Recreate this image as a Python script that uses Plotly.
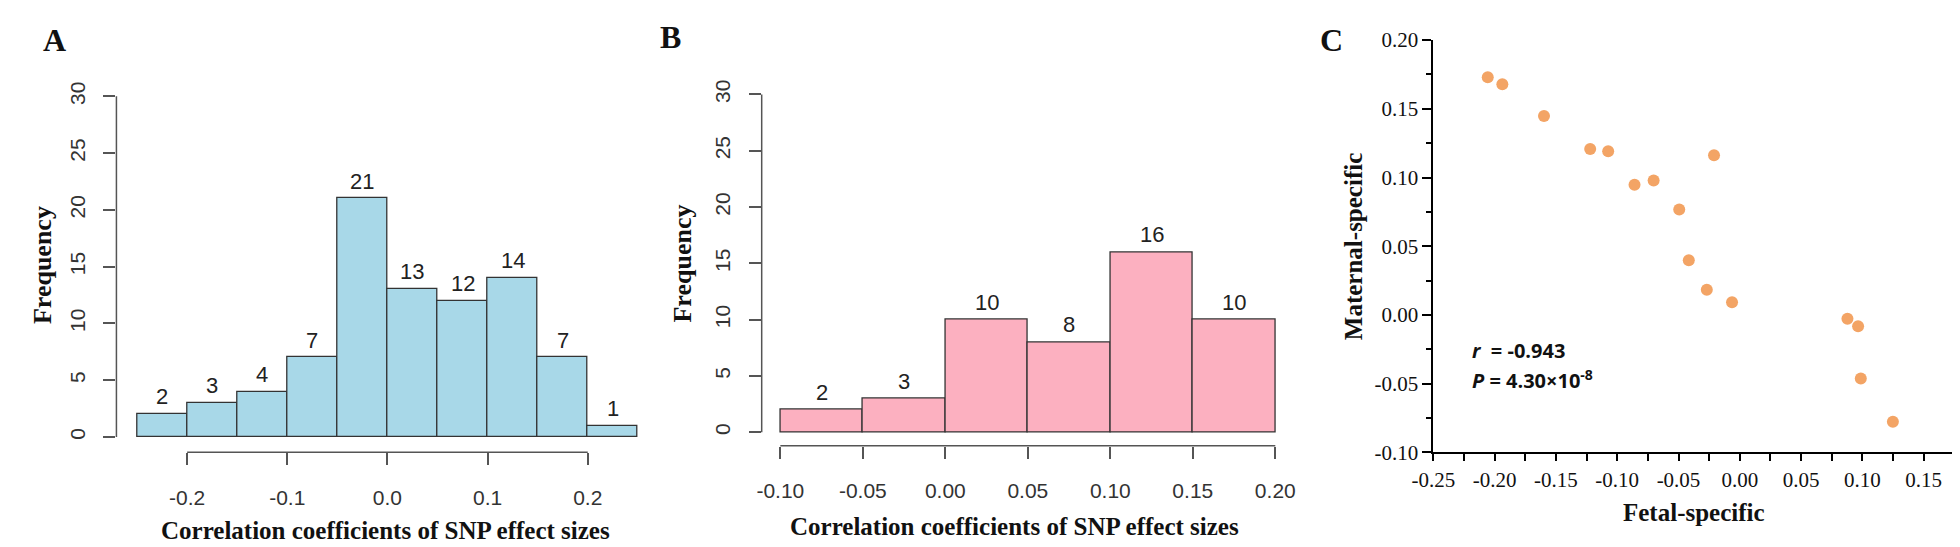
import plotly.graph_objects as go

# ---------------- data ----------------
edges_a = [-0.25, -0.20, -0.15, -0.10, -0.05, 0.00, 0.05, 0.10, 0.15, 0.20, 0.25]
counts_a = [2, 3, 4, 7, 21, 13, 12, 14, 7, 1]
xticks_a = [-0.2, -0.1, 0.0, 0.1, 0.2]

edges_b = [-0.10, -0.05, 0.00, 0.05, 0.10, 0.15, 0.20]
counts_b = [2, 3, 10, 8, 16, 10]
xticks_b = [-0.10, -0.05, 0.00, 0.05, 0.10, 0.15, 0.20]

freq_ticks = [0, 5, 10, 15, 20, 25, 30]

fetal = [-0.2057, -0.1938, -0.1598, -0.1221, -0.1074, -0.0210, -0.0859, -0.0703,
         -0.0494, -0.0416, -0.0269, -0.0063, 0.0879, 0.0966, 0.0988, 0.1250]
maternal = [0.1729, 0.1678, 0.1448, 0.1208, 0.1191, 0.1162, 0.0947, 0.0978,
            0.0768, 0.0397, 0.0184, 0.0092, -0.0027, -0.0082, -0.0462, -0.0777]
xticks_c = [-0.25, -0.20, -0.15, -0.10, -0.05, 0.00, 0.05, 0.10, 0.15]
yticks_c = [-0.10, -0.05, 0.00, 0.05, 0.10, 0.15, 0.20]

r_text = "<i>r</i>  = -0.943"
p_text = "<i>P</i> = 4.30×10<sup>-8</sup>"

W, H = 1960, 547


def centers(edges):
    return [(edges[i] + edges[i + 1]) / 2 for i in range(len(edges) - 1)]


def widths(edges):
    return [edges[i + 1] - edges[i] for i in range(len(edges) - 1)]


def fmt(vals, nd):
    out = []
    for v in vals:
        s = f"{v:.{nd}f}"
        if s.startswith("-") and float(s) == 0:
            s = s[1:]
        out.append(s)
    return out


fig = go.Figure()

fig.add_trace(go.Bar(x=centers(edges_a), y=counts_a, width=widths(edges_a),
                     marker=dict(color="#A8D8E8", line=dict(color="#333333", width=1.3)),
                     xaxis="x", yaxis="y", showlegend=False, hoverinfo="x+y"))
fig.add_trace(go.Bar(x=centers(edges_b), y=counts_b, width=widths(edges_b),
                     marker=dict(color="#FCB0C0", line=dict(color="#333333", width=1.3)),
                     xaxis="x2", yaxis="y2", showlegend=False, hoverinfo="x+y"))
fig.add_trace(go.Scatter(x=fetal, y=maternal, mode="markers",
                         marker=dict(color="#F3A465", size=12, line=dict(width=0)),
                         xaxis="x3", yaxis="y3", showlegend=False))


def px_x(p):
    return p / W


def px_y(p):
    return 1 - p / H


axis_gray = "#555555"
tick_font = dict(family="Liberation Sans, Arial, sans-serif", size=21, color="#333333")
serif_tick = dict(family="Liberation Serif, Times New Roman, serif", size=21, color="#111111")

common_r = dict(showgrid=False, zeroline=False, showline=False, ticks="outside",
                ticklen=12, tickwidth=1.5, tickcolor=axis_gray, tickfont=tick_font)

layout = dict(
    width=W, height=H, autosize=False,
    margin=dict(l=0, r=0, t=0, b=0),
    paper_bgcolor="white", plot_bgcolor="white",
    bargap=0,
    xaxis=dict(domain=[px_x(88), px_x(625)], range=[-0.2706, 0.256],
               tickmode="array", tickvals=xticks_a, ticktext=fmt(xticks_a, 1),
               anchor="y", ticklabelstandoff=14, **common_r),
    yaxis=dict(domain=[px_y(452), px_y(76.6)], range=[-1.345, 30.2],
               tickmode="array", tickvals=freq_ticks, ticktext=[str(v) for v in freq_ticks],
               tickangle=-90, anchor="x", ticklabelstandoff=10, **common_r),
    xaxis2=dict(domain=[px_x(745), px_x(1275)], range=[-0.1113, 0.2042],
                tickmode="array", tickvals=xticks_b, ticktext=fmt(xticks_b, 2),
                anchor="y2", ticklabelstandoff=14, **common_r),
    yaxis2=dict(domain=[px_y(445), px_y(75)], range=[-1.186, 30.17],
                tickmode="array", tickvals=freq_ticks, ticktext=[str(v) for v in freq_ticks],
                tickangle=-90, anchor="x2", ticklabelstandoff=10, **common_r),
    xaxis3=dict(domain=[px_x(1429), 1.0], range=[-0.25, 0.1757],
                tickmode="array", tickvals=xticks_c, ticktext=fmt(xticks_c, 2),
                showgrid=False, zeroline=False, showline=True, linecolor="black", linewidth=2,
                ticks="outside", ticklen=7, tickwidth=1.5, tickcolor="black",
                minor=dict(tickmode="linear", dtick=0.025, tick0=0, ticks="outside", ticklen=7,
                           tickwidth=1.5, tickcolor="black"),
                tickfont=serif_tick, anchor="y3"),
    yaxis3=dict(domain=[px_y(452), px_y(20)], range=[-0.10, 0.20],
                tickmode="array", tickvals=yticks_c, ticktext=fmt(yticks_c, 2),
                showgrid=False, zeroline=False, showline=True, linecolor="black", linewidth=2,
                ticks="outside", ticklen=9, tickwidth=1.5, tickcolor="black",
                minor=dict(tickmode="linear", dtick=0.025, tick0=0, ticks="outside", ticklen=5,
                           tickwidth=1.5, tickcolor="black"),
                tickfont=serif_tick, anchor="x3"),
)

# R-style axis lines (span only the tick range)
layout["shapes"] = [
    dict(type="line", xref="x domain", yref="y", x0=0, x1=0, y0=freq_ticks[0], y1=freq_ticks[-1],
         line=dict(color=axis_gray, width=1.5)),
    dict(type="line", xref="x", yref="y domain", x0=xticks_a[0], x1=xticks_a[-1], y0=0, y1=0,
         line=dict(color=axis_gray, width=1.5)),
    dict(type="line", xref="x2 domain", yref="y2", x0=0, x1=0, y0=freq_ticks[0], y1=freq_ticks[-1],
         line=dict(color=axis_gray, width=1.5)),
    dict(type="line", xref="x2", yref="y2 domain", x0=xticks_b[0], x1=xticks_b[-1], y0=0, y1=0,
         line=dict(color=axis_gray, width=1.5)),
]

title_serif = dict(family="Liberation Serif, Times New Roman, serif", size=25, color="#111111")
freq_font = dict(family="Liberation Serif, Times New Roman, serif", size=26, color="#111111")
label_font = dict(family="Liberation Serif, Times New Roman, serif", size=32, color="#111111")
c_title = dict(family="Liberation Serif, Times New Roman, serif", size=25, color="#111111")
stat_font = dict(family="Open Sans, Noto Sans, sans-serif", size=20, color="#111111")
bar_font = dict(family="Liberation Sans, Arial, sans-serif", size=22, color="#222222")

ann = [
    dict(text="<b>A</b>", x=px_x(25), y=px_y(20), font=label_font),
    dict(text="<b>B</b>", x=px_x(652), y=px_y(17), font=label_font),
    dict(text="<b>C</b>", x=px_x(1325), y=px_y(20), font=label_font),
    dict(text="<b>Correlation coefficients of SNP effect sizes</b>", x=px_x(362), y=px_y(534), font=title_serif),
    dict(text="<b>Correlation coefficients of SNP effect sizes</b>", x=px_x(1002), y=px_y(530), font=title_serif),
    dict(text="<b>Frequency</b>", x=px_x(13), y=px_y(256), textangle=-90, font=freq_font),
    dict(text="<b>Frequency</b>", x=px_x(664), y=px_y(254), textangle=-90, font=freq_font),
    dict(text="<b>Fetal-specific</b>", x=px_x(1694), y=px_y(515), font=c_title),
    dict(text="<b>Maternal-specific</b>", x=px_x(1347), y=px_y(236), textangle=-90, font=c_title),
    dict(text="<b>" + r_text + "</b>", x=px_x(1466), y=px_y(345), xanchor="left", font=stat_font),
    dict(text="<b>" + p_text + "</b>", x=px_x(1466), y=px_y(376), xanchor="left", font=stat_font),
]
for a in ann:
    a.setdefault("xanchor", "center")
    a.update(xref="paper", yref="paper", yanchor="middle", showarrow=False)

# count labels above the bars, placed in data coordinates
for xs, ys, xr, yr in [(centers(edges_a), counts_a, "x", "y"), (centers(edges_b), counts_b, "x2", "y2")]:
    for xv, yv in zip(xs, ys):
        ann.append(dict(text=str(yv), x=xv, y=yv, xref=xr, yref=yr, xanchor="center",
                        yanchor="bottom", yshift=3, showarrow=False, font=bar_font))

layout["annotations"] = ann

fig.update_layout(**layout)
fig.write_html("out.html")
